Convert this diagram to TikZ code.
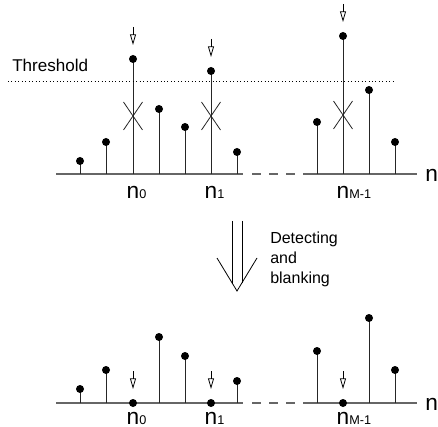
\documentclass[tikz,border=0pt]{standalone}
\usepackage{fontspec}
\setmainfont{Liberation Sans}
\usetikzlibrary{arrows.meta}
\newcommand{\subsz}{\fontsize{9.5}{9.5}\selectfont}

\begin{document}
\begin{tikzpicture}[x=0.75pt,y=-0.75pt,
    stem/.style={draw=black!85,line width=0.75pt},
    axis/.style={draw=black!60,line width=0.8pt},
    dot/.style={circle,fill=black,inner sep=0pt,minimum size=6pt},
    peakarrow/.style={-{Triangle[open,length=8pt,width=4.5pt]},line width=0.6pt},
    idx/.style={anchor=base,inner sep=0pt,font=\fontsize{17}{17}\selectfont}]
    \useasboundingbox (0,0) rectangle (438,427);

    % before blanking
    \draw[axis] (56,174) -- (243,174) (312,174) -- (417,174);
    \draw[axis,dash pattern=on 6.75pt off 6pt] (252,174) -- (312,174);
    \foreach \x/\h [count=\i] in {80/13,106/32,133/115,159/65,185/47,211/103,237/22,317/52,343/138,369/84,395/32}
        \draw[stem] (\x,174) coordinate (ta\i) -- (\x,174-\h) node[dot] (td\i) {};
    \draw[dotted,line width=0.6pt] (8,81.5) coordinate (thl) -- (395,81.5) coordinate (thr);
    \node[anchor=base west,inner sep=0pt,font=\fontsize{12.8}{12.8}\selectfont] (thresh) at (12,72) {Threshold};
    \foreach \x/\yc in {133/116,211/116,343/115}
        \draw[stem,line width=0.6pt] (\x-9.5,\yc-14) -- (\x+9.5,\yc+14) (\x+9.5,\yc-14) -- (\x-9.5,\yc+14);
    \foreach \i in {3,6,9}
        \draw[peakarrow] ([yshift=24pt]td\i.center) -- ([yshift=10.5pt]td\i.center);
    \node[idx] (n0a) at (133,199) {n\rlap{\subsz 0}};
    \node[idx] (n1a) at (211,199) {n\rlap{\subsz 1}};
    \node[idx] (nMa) at (343,199) {n\rlap{\subsz M-1}};
    \node[idx,anchor=base west] (na) at (425,182) {n};

    % detecting and blanking
    \draw[line width=0.6pt] (232,221) -- (232,282.75) (242,221) -- (242,282.75);
    \draw[line width=0.6pt] (217,258) -- (237,291) -- (257,258);
    \node[anchor=north west,inner sep=0pt,align=left,font=\fontsize{12}{15}\selectfont] (detect) at (270,232) {Detecting\\and\\blanking};

    % after blanking
    \draw[axis] (56,403) -- (243,403) (312,403) -- (417,403);
    \draw[axis,dash pattern=on 6.75pt off 6pt] (252,403) -- (312,403);
    \foreach \x/\h [count=\i] in {80/14,106/33,133/0,159/66,185/47,211/0,237/22,317/52,343/0,369/85,395/33}
        \draw[stem] (\x,403) coordinate (ba\i) -- (\x,403-\h) node[dot] (bd\i) {};
    \foreach \i in {3,6,9}
        \draw[peakarrow] ([yshift=24pt]bd\i.center) -- ([yshift=10.5pt]bd\i.center);
    \node[idx] (n0b) at (133,424) {n\rlap{\subsz 0}};
    \node[idx] (n1b) at (211,424) {n\rlap{\subsz 1}};
    \node[idx] (nMb) at (343,424) {n\rlap{\subsz M-1}};
    \node[idx,anchor=base west] (nb) at (425,410) {n};
\end{tikzpicture}
\end{document}
